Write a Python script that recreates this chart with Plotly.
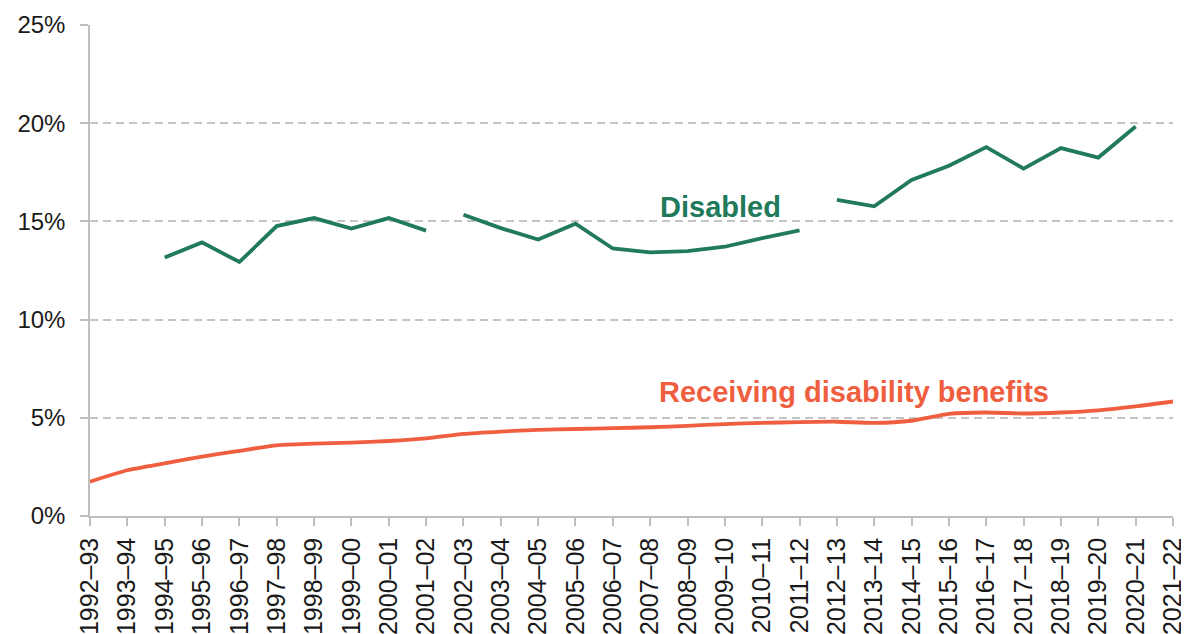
import plotly.graph_objects as go

years = ["1992–93", "1993–94", "1994–95", "1995–96", "1996–97", "1997–98", "1998–99",
         "1999–00", "2000–01", "2001–02", "2002–03", "2003–04", "2004–05", "2005–06",
         "2006–07", "2007–08", "2008–09", "2009–10", "2010–11", "2011–12", "2012–13",
         "2013–14", "2014–15", "2015–16", "2016–17", "2017–18", "2018–19", "2019–20",
         "2020–21", "2021–22"]

disabled = [None, None, 13.16, 13.93, 12.93, 14.76, 15.17, 14.64, 15.17, 14.53,
            15.34, 14.66, 14.08, 14.88, 13.62, 13.42, 13.49, 13.71, 14.15, 14.54,
            16.10, 15.77, 17.11, 17.83, 18.78, 17.69, 18.73, 18.25, 19.83, None]
# Disabled series is drawn as separate segments (breaks in the series)
disabled_segments = [(2, 9), (10, 19), (20, 28)]

benefits = [1.75, 2.33, 2.68, 3.02, 3.32, 3.60, 3.68, 3.74, 3.82, 3.95,
            4.18, 4.30, 4.39, 4.43, 4.47, 4.52, 4.59, 4.68, 4.74, 4.78,
            4.80, 4.74, 4.85, 5.20, 5.27, 5.22, 5.27, 5.38, 5.58, 5.83]

y_ticks = [0, 5, 10, 15, 20, 25]
y_ticktext = ["0%", "5%", "10%", "15%", "20%", "25%"]

GREEN = "#217a5a"
ORANGE = "#ef5e3f"
FONT = "Liberation Sans, Arial, sans-serif"

fig = go.Figure()
for s, e in disabled_segments:
    fig.add_trace(go.Scatter(
        x=years[s:e + 1], y=disabled[s:e + 1],
        mode="lines", line=dict(color=GREEN, width=3.8),
        showlegend=False))

fig.add_trace(go.Scatter(
    x=years, y=benefits, mode="lines",
    line=dict(color=ORANGE, width=3.8, shape="spline", smoothing=0.6),
    showlegend=False))

fig.add_annotation(text="<b>Disabled</b>", xref="paper", yref="paper",
                   x=0.582, y=0.629, xanchor="center", yanchor="middle",
                   showarrow=False,
                   font=dict(family=FONT, size=29, color=GREEN))
fig.add_annotation(text="<b>Receiving disability benefits</b>", xref="paper", yref="paper",
                   x=0.705, y=0.252, xanchor="center", yanchor="middle",
                   showarrow=False,
                   font=dict(family=FONT, size=29, color=ORANGE))

fig.update_layout(
    width=1181, height=626,
    margin=dict(l=82, r=16, t=17, b=118, autoexpand=False),
    paper_bgcolor="white", plot_bgcolor="white",
    font=dict(family=FONT, size=24, color="#1a1a1a"),
    xaxis=dict(
        type="category", categoryorder="array", categoryarray=years,
        range=[0, len(years) - 1],
        tickangle=-90, showgrid=False,
        showline=True, linecolor="#bfbfbf", linewidth=1.5,
        ticks="outside", ticklen=8, tickcolor="#bfbfbf", tickwidth=1.5,
        ticklabelstandoff=2,
        tickfont=dict(size=25), automargin=False, zeroline=False,
    ),
    yaxis=dict(
        range=[0, 25], tickvals=y_ticks, ticktext=y_ticktext,
        showgrid=True, gridcolor="#c4c4c4", gridwidth=1.8, griddash="8px,5px",
        showline=True, linecolor="#bfbfbf", linewidth=1.5,
        ticks="outside", ticklen=8, tickcolor="#bfbfbf", tickwidth=1.5,
        ticklabelstandoff=10, zeroline=False,
        tickfont=dict(size=24), automargin=False,
    ),
)

fig.write_html("out.html")
